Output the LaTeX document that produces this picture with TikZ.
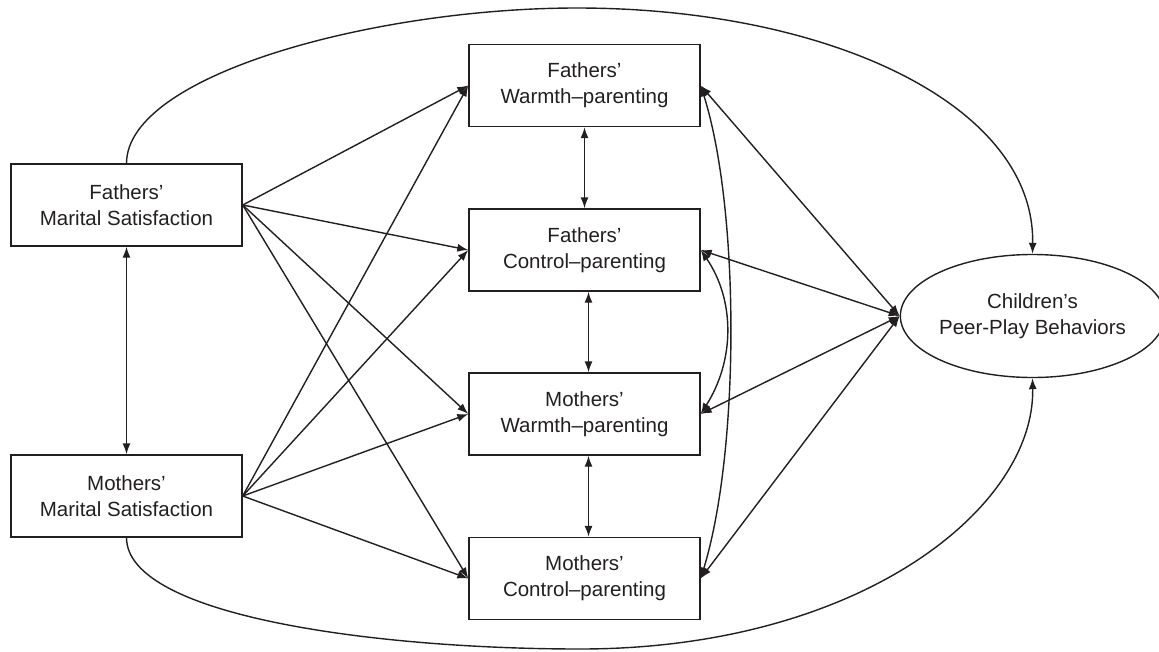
\documentclass[tikz,border=0pt]{standalone}
\usepackage{fontspec}
\setmainfont{Liberation Sans}
\usetikzlibrary{arrows.meta,shapes.geometric}
\definecolor{ink}{HTML}{231F20}
\begin{document}
\begin{tikzpicture}[x=1pt,y=-1pt,
  box/.style={draw=ink, line width=1.4pt, minimum width=231pt, minimum height=82pt,
    inner sep=0pt, align=center, text=ink, font=\fontsize{20.5}{26}\selectfont},
  oval/.style={draw=ink, line width=1.4pt, ellipse, minimum width=249pt, minimum height=123pt,
    inner sep=0pt, align=center, text=ink, font=\fontsize{20.5}{26}\selectfont},
  onearrow/.style={draw=ink, line width=1.4pt, -{Latex[length=11pt,width=8pt]}},
  twoarrow/.style={draw=ink, line width=1.4pt, {Latex[length=11pt,width=8pt]}-{Latex[length=11pt,width=8pt]}}
]
\useasboundingbox (0,0) rectangle (1159,651);
\node[box] (fms) at (126.5,205) {Fathers’\\Marital Satisfaction};
\node[box] (mms) at (126.5,496) {Mothers’\\Marital Satisfaction};
\node[box] (fw) at (584.5,85.5) {Fathers’\\Warmth–parenting};
\node[box] (fc) at (584.5,250) {Fathers’\\Control–parenting};
\node[box] (mw) at (584.5,414) {Mothers’\\Warmth–parenting};
\node[box] (mc) at (584.5,578.5) {Mothers’\\Control–parenting};
\node[oval] (ch) at (1032.5,316) {Children’s\\Peer-Play Behaviors};

% left paths
\foreach \t in {fw,fc,mw,mc}{
  \draw[onearrow] (fms.east) -- (\t.west);
  \draw[onearrow] (mms.east) -- (\t.west);
  \draw[twoarrow] (ch.west) -- (\t.east);
}
% vertical correlations
\draw[twoarrow] (fms.south) -- (mms.north);
\draw[twoarrow] (fw.south) -- (fc.north);
\draw[twoarrow] ([xshift=4pt]fc.south) -- ([xshift=4pt]mw.north);
\draw[twoarrow] ([xshift=4pt]mw.south) -- ([xshift=4pt]mc.north);
% right correlations
\draw[twoarrow] (fw.east) .. controls (740,210) and (740,450) .. (mc.east);
\draw[twoarrow] (fc.east) .. controls (735,300) and (735,360) .. (mw.east);
% long curves
\coordinate (topc) at (577,8);
\coordinate (botc) at (580,649);
\draw[onearrow] (fms.north) .. controls (127,74) and (377,8) .. (topc)
   .. controls (827,8) and (1035,104) .. (ch.north);
\draw[onearrow] (mms.south) .. controls (127,617) and (380,649) .. (botc)
   .. controls (860,649) and (1035,508) .. (ch.south);
\end{tikzpicture}
\end{document}
